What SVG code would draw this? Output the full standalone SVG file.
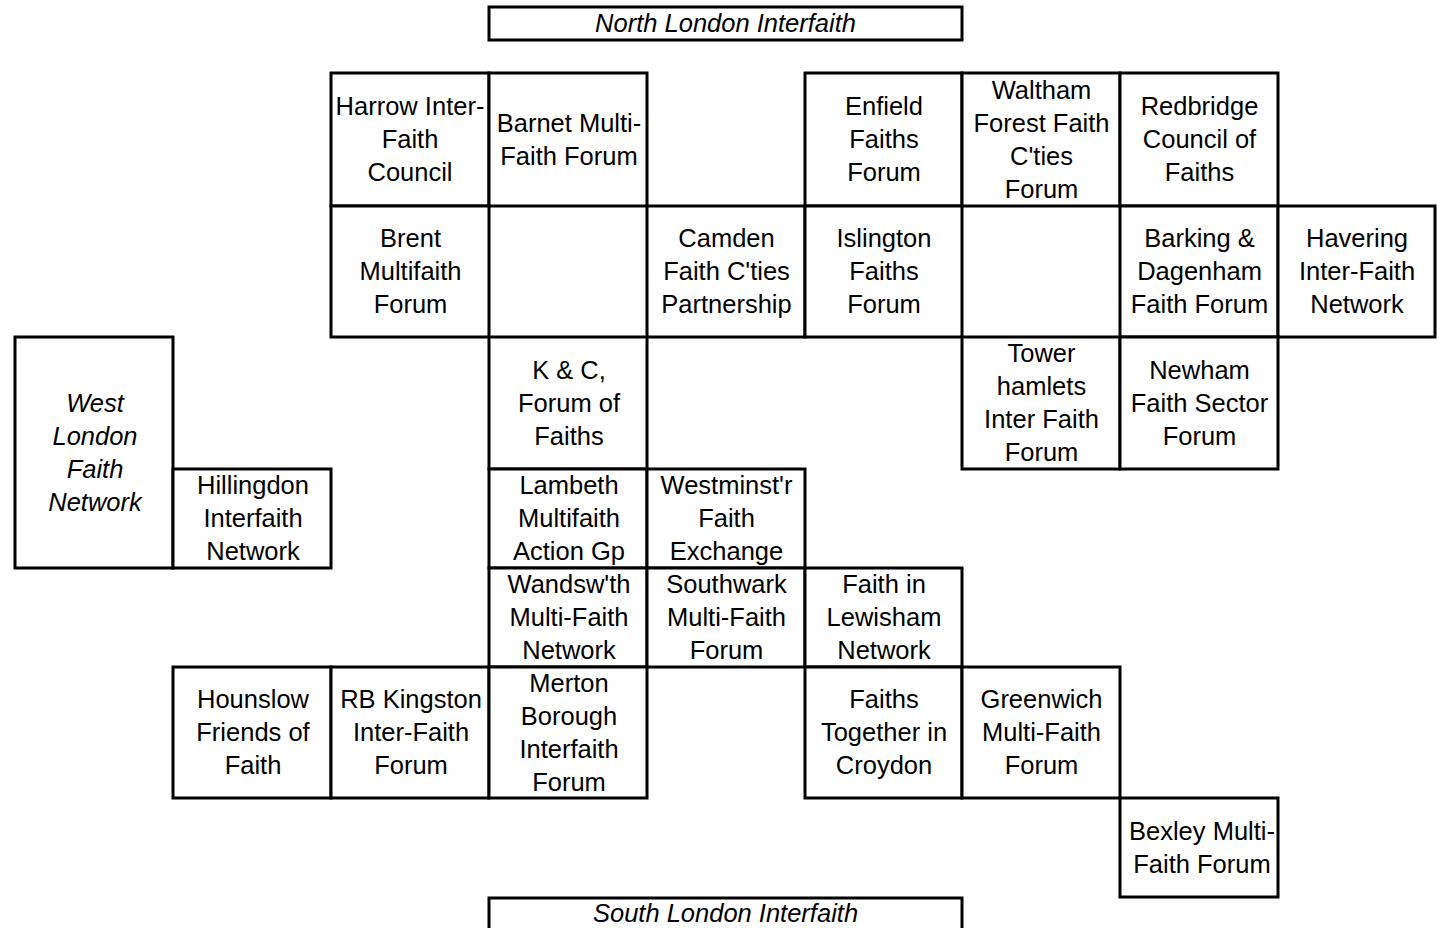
<svg xmlns="http://www.w3.org/2000/svg" width="1437" height="928" viewBox="0 0 1437 928">
<style>
rect { fill: #ffffff; stroke: #000000; stroke-width: 3; }
text { font-family: "Liberation Sans", Arial, sans-serif; font-size: 25.5px; fill: #000000; text-anchor: middle; }
.it { font-style: italic; }
</style>
<rect x="0" y="0" width="1437" height="928" style="stroke:none" />
<g id="north"><rect x="489" y="7" width="473" height="33"/><text class="it" x="725.5" y="32">North London Interfaith</text></g>
<g id="harrow"><rect x="331" y="73" width="158" height="133"/><text><tspan x="410" y="115">Harrow Inter-</tspan><tspan x="410" y="148">Faith</tspan><tspan x="410" y="181">Council</tspan></text></g>
<g id="barnet"><rect x="489" y="73" width="158" height="133"/><text><tspan x="569" y="131.5">Barnet Multi-</tspan><tspan x="569" y="164.5">Faith Forum</tspan></text></g>
<g id="enfield"><rect x="805" y="73" width="157" height="133"/><text><tspan x="884" y="115">Enfield</tspan><tspan x="884" y="148">Faiths</tspan><tspan x="884" y="181">Forum</tspan></text></g>
<g id="waltham"><rect x="962" y="73" width="158" height="133"/><text><tspan x="1041.5" y="98.5">Waltham</tspan><tspan x="1041.5" y="131.5">Forest Faith</tspan><tspan x="1041.5" y="164.5">C'ties</tspan><tspan x="1041.5" y="197.5">Forum</tspan></text></g>
<g id="redbridge"><rect x="1120" y="73" width="158" height="133"/><text><tspan x="1199.5" y="115">Redbridge</tspan><tspan x="1199.5" y="148">Council of</tspan><tspan x="1199.5" y="181">Faiths</tspan></text></g>
<g id="brent"><rect x="331" y="206" width="158" height="131"/><text><tspan x="410.5" y="247">Brent</tspan><tspan x="410.5" y="280">Multifaith</tspan><tspan x="410.5" y="313">Forum</tspan></text></g>
<g id="camden"><rect x="647" y="206" width="158" height="131"/><text><tspan x="726.5" y="247">Camden</tspan><tspan x="726.5" y="280">Faith C'ties</tspan><tspan x="726.5" y="313">Partnership</tspan></text></g>
<g id="islington"><rect x="805" y="206" width="157" height="131"/><text><tspan x="884" y="247">Islington</tspan><tspan x="884" y="280">Faiths</tspan><tspan x="884" y="313">Forum</tspan></text></g>
<g id="barking"><rect x="1120" y="206" width="158" height="131"/><text><tspan x="1199.5" y="247">Barking &amp;</tspan><tspan x="1199.5" y="280">Dagenham</tspan><tspan x="1199.5" y="313">Faith Forum</tspan></text></g>
<g id="havering"><rect x="1278" y="206" width="157" height="131"/><text><tspan x="1357" y="247">Havering</tspan><tspan x="1357" y="280">Inter-Faith</tspan><tspan x="1357" y="313">Network</tspan></text></g>
<g id="westlondon"><rect x="15" y="337" width="158" height="231"/><text class="it"><tspan x="95" y="411.5">West</tspan><tspan x="95" y="444.5">London</tspan><tspan x="95" y="477.5">Faith</tspan><tspan x="95" y="510.5">Network</tspan></text></g>
<g id="kc"><rect x="489" y="337" width="158" height="132"/><text><tspan x="569" y="378.5">K &amp; C,</tspan><tspan x="569" y="411.5">Forum of</tspan><tspan x="569" y="444.5">Faiths</tspan></text></g>
<g id="tower"><rect x="962" y="337" width="158" height="132"/><text><tspan x="1041.5" y="362">Tower</tspan><tspan x="1041.5" y="395">hamlets</tspan><tspan x="1041.5" y="428">Inter Faith</tspan><tspan x="1041.5" y="461">Forum</tspan></text></g>
<g id="newham"><rect x="1120" y="337" width="158" height="132"/><text><tspan x="1199.5" y="378.5">Newham</tspan><tspan x="1199.5" y="411.5">Faith Sector</tspan><tspan x="1199.5" y="444.5">Forum</tspan></text></g>
<g id="hillingdon"><rect x="173" y="469" width="158" height="99"/><text><tspan x="253" y="494">Hillingdon</tspan><tspan x="253" y="527">Interfaith</tspan><tspan x="253" y="560">Network</tspan></text></g>
<g id="lambeth"><rect x="489" y="469" width="158" height="99"/><text><tspan x="569" y="494">Lambeth</tspan><tspan x="569" y="527">Multifaith</tspan><tspan x="569" y="560">Action Gp</tspan></text></g>
<g id="westminster"><rect x="647" y="469" width="158" height="99"/><text><tspan x="726.5" y="494">Westminst'r</tspan><tspan x="726.5" y="527">Faith</tspan><tspan x="726.5" y="560">Exchange</tspan></text></g>
<g id="wandsworth"><rect x="489" y="568" width="158" height="99"/><text><tspan x="569" y="593">Wandsw'th</tspan><tspan x="569" y="626">Multi-Faith</tspan><tspan x="569" y="659">Network</tspan></text></g>
<g id="southwark"><rect x="647" y="568" width="158" height="99"/><text><tspan x="726.5" y="593">Southwark</tspan><tspan x="726.5" y="626">Multi-Faith</tspan><tspan x="726.5" y="659">Forum</tspan></text></g>
<g id="lewisham"><rect x="805" y="568" width="157" height="99"/><text><tspan x="884" y="593">Faith in</tspan><tspan x="884" y="626">Lewisham</tspan><tspan x="884" y="659">Network</tspan></text></g>
<g id="hounslow"><rect x="173" y="667" width="158" height="131"/><text><tspan x="253" y="708">Hounslow</tspan><tspan x="253" y="741">Friends of</tspan><tspan x="253" y="774">Faith</tspan></text></g>
<g id="kingston"><rect x="331" y="667" width="158" height="131"/><text><tspan x="411" y="708">RB Kingston</tspan><tspan x="411" y="741">Inter-Faith</tspan><tspan x="411" y="774">Forum</tspan></text></g>
<g id="merton"><rect x="489" y="667" width="158" height="131"/><text><tspan x="569" y="691.5">Merton</tspan><tspan x="569" y="724.5">Borough</tspan><tspan x="569" y="757.5">Interfaith</tspan><tspan x="569" y="790.5">Forum</tspan></text></g>
<g id="croydon"><rect x="805" y="667" width="157" height="131"/><text><tspan x="884" y="708">Faiths</tspan><tspan x="884" y="741">Together in</tspan><tspan x="884" y="774">Croydon</tspan></text></g>
<g id="greenwich"><rect x="962" y="667" width="158" height="131"/><text><tspan x="1041.5" y="708">Greenwich</tspan><tspan x="1041.5" y="741">Multi-Faith</tspan><tspan x="1041.5" y="774">Forum</tspan></text></g>
<g id="bexley"><rect x="1120" y="798" width="158" height="99"/><text><tspan x="1202" y="839.5">Bexley Multi-</tspan><tspan x="1202" y="872.5">Faith Forum</tspan></text></g>
<g id="south"><rect x="489" y="898" width="473" height="33"/><text class="it" x="725.5" y="922">South London Interfaith</text></g>
<g id="connectors"></g>
</svg>
